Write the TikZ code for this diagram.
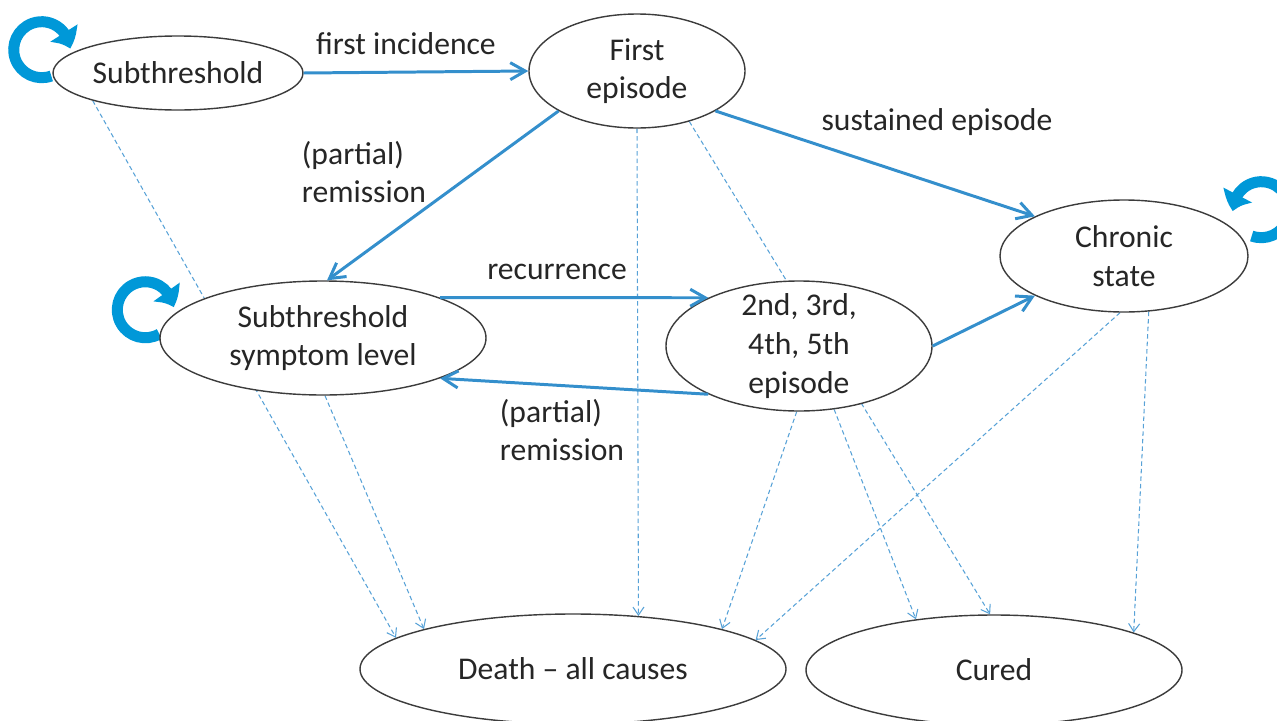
\documentclass[tikz,border=0pt]{standalone}
\usepackage{fontspec}
\setmainfont{Carlito}
\usepackage{xcolor}
\usepackage{tikz}
\usetikzlibrary{arrows.meta}
\usetikzlibrary{bending}
\usetikzlibrary{shapes.geometric}
\usetikzlibrary{backgrounds}
\definecolor{lineblue}{RGB}{52,143,204}
\definecolor{loopblue}{RGB}{0,152,216}
\definecolor{dashblue}{RGB}{88,162,215}
\definecolor{rimgray}{RGB}{60,60,60}
\tikzset{
  phase/.style = {ellipse, draw=rimgray, line width=0.8pt, fill=white, inner sep=0pt},
  phasetext/.style = {align=center, text=black!85, font=\fontsize{18}{22}\selectfont},
  translabel/.style = {align=left, inner sep=0pt, text=black!85, font=\fontsize{18}{22}\selectfont},
  trans/.style = {draw=lineblue, line width=1.7pt, -{Straight Barb[length=3mm,width=3.4mm]}},
  exit/.style = {draw=dashblue, line width=0.6pt, dash pattern=on 0.9mm off 0.6mm, -{Straight Barb[length=1.6mm,width=2.2mm]}},
  stay/.style = {draw=loopblue, line width=2.2mm, -{Triangle[bend,length=3.4mm,width=6.2mm]}}
}

\begin{document}
\begin{tikzpicture}[x=0.2mm, y=-0.2mm]
    \useasboundingbox (0,0) rectangle (1277,721);
    \node[phase, minimum width=50mm, minimum height=14.8mm, label={[phasetext]center:Subthreshold}] (sub) at (178,73) {};
    \node[phase, minimum width=43.2mm, minimum height=22.8mm, label={[phasetext]center:First\\episode}] (first) at (637,71) {};
    \node[phase, minimum width=49.6mm, minimum height=22.4mm, label={[phasetext]center:Chronic\\state}] (chronic) at (1124,256) {};
    \node[phase, minimum width=65.2mm, minimum height=22.8mm, label={[phasetext]center:Subthreshold\\symptom level}] (level) at (323,338) {};
    \node[phase, minimum width=53.2mm, minimum height=26mm, label={[phasetext]center:2nd, 3rd,\\4th, 5th\\episode}] (later) at (799,346) {};
    \node[phase, minimum width=85.2mm, minimum height=22mm, label={[phasetext]center:Death -- all causes}] (death) at (573,669) {};
    \node[phase, minimum width=75.2mm, minimum height=22mm, label={[phasetext]center:Cured}] (cured) at (994,670) {};

    \node[translabel] (incid) at (406,44) {first incidence};
    \node[translabel] (remit) at (364,172) {(partial)\\remission};
    \node[translabel] (sustain) at (937,122) {sustained episode};
    \node[translabel] (recur) at (557,272) {recurrence};
    \node[translabel] (remitb) at (562,430) {(partial)\\remission};

    \draw[trans] (sub.east) -- (first.west);
    \draw[trans] (first.207) -- (level.86);
    \draw[trans] (first.-27) -- (chronic.156);
    \draw[trans] (level.19) -- (later.152);
    \draw[trans] (later.208) -- (level.-19);
    \draw[trans] (later.0) -- (chronic.204);

    \begin{scope}[on background layer]
      \draw[exit] (sub.198) -- (death.170);
      \draw[exit] (level.-88) -- (death.165);
      \draw[exit] (first.south) -- (death.39);
      \draw[exit] (first.-44) -- (cured.94);
      \draw[exit] (later.-92) -- (death.15);
      \draw[exit] (later.-61) -- (cured.147);
      \draw[exit] (chronic.-94) -- (death.9);
      \draw[exit] (chronic.-66) -- (cured.15);
      \draw[stay] ([shift={(-1,3)}]sub.west) arc[start angle=70, end angle=358, radius=28];
      \draw[stay] ([shift={(0,-4)}]level.west) arc[start angle=60, end angle=355, radius=28];
      \draw[stay] ([shift={(3,-20)}]chronic.east) arc[start angle=110, end angle=-183, radius=28];
    \end{scope}
\end{tikzpicture}
\end{document}
